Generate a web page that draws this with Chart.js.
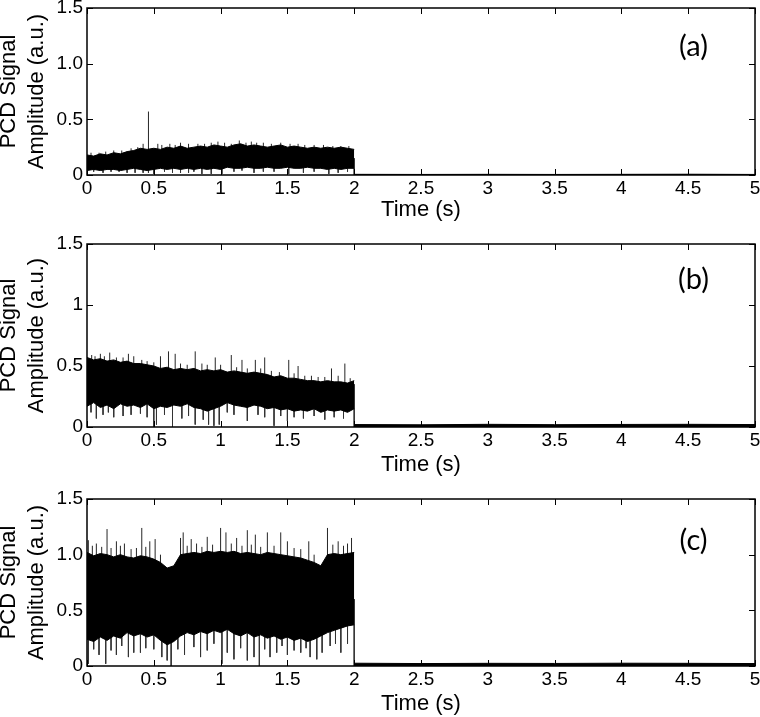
<!DOCTYPE html>
<html>
<head>
<meta charset="utf-8">
<title>PCD Signal Amplitude</title>
<script src="https://cdn.jsdelivr.net/npm/chart.js"></script>
<style>
    body { margin: 0; background: #fff; }
    #wrap { position: relative; width: 760px; height: 717px; overflow: hidden; }
    canvas { position: absolute; left: 0; }
</style>
</head>
<body>
<div id="wrap">
    <canvas id="chartA" width="760" height="230" style="top:0px"></canvas>
    <canvas id="chartB" width="760" height="250" style="top:230px"></canvas>
    <canvas id="chartC" width="760" height="237" style="top:480px"></canvas>
</div>
<script>
/*-------------------------------------------------------------------------------
 DATA
 -------------------------------------------------------------------------------*/

// time grid of the signal envelope while the source is on (s)
const timeGrid = [0, 0.05, 0.1, 0.15, 0.2, 0.25, 0.3, 0.35, 0.4, 0.45, 0.5, 0.55, 0.6, 0.65, 0.7,
    0.75, 0.8, 0.85, 0.9, 0.95, 1.0, 1.05, 1.1, 1.15, 1.2, 1.25, 1.3, 1.35, 1.4, 1.45, 1.5,
    1.55, 1.6, 1.65, 1.7, 1.75, 1.8, 1.85, 1.9, 1.95, 2.0];

// (a)
const upperA = [0.18, 0.17, 0.19, 0.18, 0.20, 0.19, 0.21, 0.22, 0.24, 0.23, 0.24, 0.23, 0.25, 0.24, 0.26,
    0.24, 0.25, 0.26, 0.25, 0.27, 0.26, 0.25, 0.27, 0.28, 0.26, 0.27, 0.26, 0.25, 0.26, 0.27, 0.25,
    0.26, 0.25, 0.24, 0.25, 0.24, 0.25, 0.24, 0.25, 0.24, 0.23];
const lowerA = [0.04, 0.05, 0.04, 0.05, 0.05, 0.04, 0.05, 0.06, 0.05, 0.04, 0.05, 0.06, 0.05, 0.06, 0.05,
    0.06, 0.05, 0.06, 0.05, 0.06, 0.05, 0.07, 0.06, 0.06, 0.07, 0.06, 0.06, 0.07, 0.06, 0.06, 0.07,
    0.06, 0.06, 0.07, 0.06, 0.06, 0.05, 0.06, 0.05, 0.06, 0.06];
const upSpikeTimeA = [0.46, 0.42, 0.53, 0.70, 0.98, 1.14, 1.27, 1.45,
    0.03, 0.09, 0.14, 0.20, 0.26, 0.33, 0.38, 0.56, 0.62, 0.66, 0.76, 0.83, 0.88, 0.93,
    1.03, 1.08, 1.19, 1.23, 1.32, 1.38, 1.52, 1.58, 1.63, 1.70, 1.77, 1.84, 1.90, 1.96];
const upSpikeValA = [0.57, 0.28, 0.28, 0.29, 0.30, 0.31, 0.29, 0.29,
    0.20, 0.20, 0.21, 0.22, 0.22, 0.24, 0.25, 0.27, 0.28, 0.27, 0.28, 0.28, 0.28, 0.29,
    0.29, 0.28, 0.29, 0.30, 0.29, 0.28, 0.28, 0.28, 0.27, 0.27, 0.27, 0.26, 0.26, 0.26];
const downSpikeTimeA = [0.30, 0.36, 0.46, 0.50, 0.70, 0.76, 0.86, 0.93, 1.01, 1.25, 1.51, 1.81, 1.88, 2.0,
    0.05, 0.12, 0.18, 0.24, 0.42, 0.58, 0.64, 0.80, 1.10, 1.16, 1.32, 1.40, 1.62, 1.70, 1.95];
const downSpikeValA = [0.02, 0.02, 0.02, 0.01, 0.02, 0.02, 0.01, 0.01, 0.01, 0.02, 0.01, 0.01, 0.02, 0.0,
    0.03, 0.02, 0.03, 0.03, 0.02, 0.03, 0.02, 0.03, 0.03, 0.04, 0.03, 0.03, 0.02, 0.03, 0.03];

// (b)
const upperB = [0.57, 0.55, 0.56, 0.54, 0.55, 0.53, 0.54, 0.52, 0.52, 0.51, 0.50, 0.48, 0.49, 0.47, 0.48,
    0.47, 0.48, 0.46, 0.47, 0.46, 0.47, 0.45, 0.46, 0.45, 0.44, 0.45, 0.44, 0.43, 0.41, 0.42, 0.40,
    0.40, 0.39, 0.38, 0.38, 0.37, 0.38, 0.37, 0.37, 0.36, 0.38];
const lowerB = [0.17, 0.20, 0.16, 0.18, 0.15, 0.19, 0.17, 0.18, 0.16, 0.19, 0.15, 0.17, 0.16, 0.18, 0.17,
    0.19, 0.16, 0.15, 0.13, 0.15, 0.17, 0.20, 0.18, 0.17, 0.16, 0.18, 0.17, 0.15, 0.16, 0.14, 0.15,
    0.13, 0.14, 0.13, 0.15, 0.12, 0.14, 0.13, 0.14, 0.12, 0.15];
const upSpikeTimeB = [0.035, 0.10, 0.17, 0.31, 0.35, 0.55, 0.61, 0.66, 0.81, 0.96, 1.08, 1.16, 1.26, 1.33, 1.51, 1.58, 1.83, 1.93,
    0.06, 0.13, 0.22, 0.27, 0.41, 0.45, 0.50, 0.70, 0.75, 0.86, 0.90, 1.00, 1.12, 1.20, 1.30, 1.38,
    1.44, 1.55, 1.63, 1.68, 1.73, 1.78, 1.88, 1.97];
const upSpikeValB = [0.59, 0.60, 0.61, 0.60, 0.58, 0.58, 0.62, 0.60, 0.62, 0.57, 0.59, 0.55, 0.55, 0.57, 0.55, 0.50, 0.48, 0.52,
    0.58, 0.58, 0.57, 0.57, 0.55, 0.54, 0.53, 0.52, 0.51, 0.52, 0.51, 0.51, 0.49, 0.48, 0.48, 0.46,
    0.45, 0.44, 0.42, 0.42, 0.41, 0.41, 0.42, 0.40];
const downSpikeTimeB = [0.07, 0.20, 0.50, 0.52, 0.64, 0.81, 0.91, 0.95, 0.99, 1.20, 1.40, 1.50, 2.0,
    0.03, 0.12, 0.16, 0.27, 0.33, 0.40, 0.45, 0.58, 0.71, 0.76, 0.87, 1.05, 1.10, 1.28, 1.33,
    1.45, 1.55, 1.62, 1.70, 1.78, 1.85, 1.92];
const downSpikeValB = [0.07, 0.08, 0.0, 0.02, 0.0, 0.02, 0.02, 0.01, 0.02, 0.05, 0.01, 0.05, 0.0,
    0.12, 0.10, 0.12, 0.09, 0.10, 0.11, 0.08, 0.10, 0.07, 0.09, 0.06, 0.12, 0.10, 0.10, 0.08,
    0.09, 0.08, 0.07, 0.09, 0.06, 0.08, 0.07];

// (c)
const upperC = [1.02, 0.99, 1.01, 1.00, 0.98, 1.00, 0.98, 0.97, 0.99, 0.98, 0.96, 0.93, 0.88, 0.90, 1.00,
    1.01, 1.02, 1.01, 1.03, 1.02, 1.03, 1.02, 1.03, 1.01, 1.02, 1.01, 1.00, 1.02, 1.01, 1.00, 0.99,
    0.98, 0.97, 0.95, 0.93, 0.90, 1.00, 1.01, 1.00, 1.01, 1.02];
const lowerC = [0.24, 0.22, 0.26, 0.23, 0.27, 0.25, 0.30, 0.27, 0.29, 0.26, 0.28, 0.23, 0.19, 0.22, 0.27,
    0.30, 0.28, 0.31, 0.29, 0.32, 0.30, 0.33, 0.29, 0.27, 0.30, 0.26, 0.28, 0.25, 0.27, 0.24, 0.26,
    0.23, 0.25, 0.22, 0.24, 0.27, 0.30, 0.32, 0.34, 0.36, 0.37];
const upSpikeTimeC = [0.01, 0.07, 0.15, 0.22, 0.28, 0.41, 0.47, 0.51, 0.70, 0.72, 0.78, 0.90, 1.00, 1.04, 1.12, 1.20, 1.26, 1.35, 1.45, 1.50, 1.66, 1.80, 1.88, 1.98,
    0.04, 0.11, 0.18, 0.25, 0.33, 0.37, 0.44, 0.55, 0.75, 0.82, 0.86, 0.94, 1.08, 1.16, 1.23, 1.30,
    1.40, 1.55, 1.60, 1.70, 1.84, 1.92, 1.95];
const upSpikeValC = [1.13, 1.10, 1.23, 1.12, 1.10, 1.24, 1.12, 1.14, 1.15, 1.20, 1.14, 1.16, 1.24, 1.20, 1.15, 1.22, 1.18, 1.20, 1.20, 1.12, 1.12, 1.24, 1.12, 1.15,
    1.08, 1.07, 1.06, 1.08, 1.05, 1.06, 1.07, 1.00, 1.08, 1.10, 1.07, 1.09, 1.10, 1.08, 1.09, 1.07,
    1.08, 1.06, 1.05, 1.00, 1.09, 1.08, 1.10];
const downSpikeTimeC = [0.01, 0.09, 0.14, 0.22, 0.31, 0.35, 0.50, 0.63, 0.73, 0.85, 1.01, 1.10, 1.20, 1.29, 1.37, 1.50, 1.60, 1.67, 1.90, 2.0,
    0.05, 0.18, 0.26, 0.40, 0.44, 0.56, 0.60, 0.68, 0.80, 0.90, 0.95, 1.05, 1.15, 1.25, 1.33, 1.42,
    1.46, 1.55, 1.64, 1.72, 1.76, 1.82, 1.86, 1.95];
const downSpikeValC = [0.02, 0.10, 0.02, 0.10, 0.08, 0.12, 0.15, 0.0, 0.10, 0.08, 0.02, 0.06, 0.05, 0.0, 0.08, 0.10, 0.12, 0.08, 0.12, 0.0,
    0.15, 0.14, 0.18, 0.12, 0.16, 0.08, 0.05, 0.15, 0.17, 0.14, 0.20, 0.12, 0.16, 0.08, 0.15, 0.12,
    0.18, 0.14, 0.16, 0.06, 0.12, 0.18, 0.20, 0.20];

// residual signal after the source is switched off
const tailTime = [2.0, 2.5, 3.0, 3.5, 4.0, 4.5, 5.0];
const tailLevelA = [0.006, 0.005, 0.006, 0.005, 0.006, 0.007, 0.005];
const tailLevelB = [0.020, 0.018, 0.022, 0.019, 0.021, 0.022, 0.020];
const tailLevelC = [0.025, 0.022, 0.024, 0.023, 0.025, 0.024, 0.022];
const tailZero = [0, 0, 0, 0, 0, 0, 0];

// ticks
const xTickValues = [0, 0.5, 1, 1.5, 2, 2.5, 3, 3.5, 4, 4.5, 5];
const xTickLabels = ['0', '0.5', '1', '1.5', '2', '2.5', '3', '3.5', '4', '4.5', '5'];
const yTickValues = [0, 0.5, 1, 1.5];
const yTickLabelsA = ['0', '0.5', '1.0', '1.5'];
const yTickLabelsB = ['0', '0.5', '1', '1.5'];
const yTickLabelsC = ['0', '0.5', '1.0', '1.5'];


/*-------------------------------------------------------------------------------
 helpers
 -------------------------------------------------------------------------------*/

function toPoints(times, values) {
    return times.map(function (t, i) { return {x: t, y: values[i]}; });
}

function spikePoints(times, values, base) {
    let pts = [];
    for (let i = 0; i < times.length; i++) {
        pts.push({x: times[i], y: base});
        pts.push({x: times[i], y: values[i]});
        pts.push({x: times[i], y: null});
    }
    return pts;
}

function labelFor(values, labels, v) {
    for (let i = 0; i < values.length; i++) {
        if (Math.abs(values[i] - v) < 1e-6) return labels[i];
    }
    return '';
}

// MATLAB style box with inward ticks + panel letter
const frameBox = {
    id: 'frameBox',
    afterDraw: function (chart, args, opts) {
        const ctx = chart.ctx;
        const a = chart.chartArea;
        const xs = chart.scales.x;
        const ys = chart.scales.y;
        ctx.save();
        ctx.strokeStyle = '#000';
        ctx.lineWidth = 1;
        ctx.beginPath();
        xTickValues.forEach(function (v) {
            const px = Math.round(xs.getPixelForValue(v)) + 0.5;
            ctx.moveTo(px, a.bottom); ctx.lineTo(px, a.bottom - 6);
            ctx.moveTo(px, a.top); ctx.lineTo(px, a.top + 6);
        });
        yTickValues.forEach(function (v) {
            const py = Math.round(ys.getPixelForValue(v)) + 0.5;
            ctx.moveTo(a.left, py); ctx.lineTo(a.left + 6, py);
            ctx.moveTo(a.right, py); ctx.lineTo(a.right - 6, py);
        });
        ctx.stroke();
        ctx.lineWidth = 1.5;
        ctx.strokeRect(a.left, a.top, a.right - a.left, a.bottom - a.top);

        ctx.fillStyle = '#000';
        ctx.font = '29px Lato';
        ctx.textAlign = 'center';
        ctx.textBaseline = 'middle';
        ctx.fillText(opts.label, xs.getPixelForValue(opts.labelX), ys.getPixelForValue(opts.labelY));
        ctx.restore();
    }
};

Chart.defaults.font.family = '"Liberation Sans", Arial, sans-serif';
Chart.defaults.color = '#000';

function makePanel(id, p) {
    let ctx = document.getElementById(id).getContext('2d');
    return new Chart(ctx, {
        type: 'line',
        data: {
            datasets: [{
                data: toPoints(timeGrid, p.upper),
                borderColor: '#000', borderWidth: 1,
                backgroundColor: '#000', fill: '+1'
            }, {
                data: toPoints(timeGrid, p.lower),
                borderColor: '#000', borderWidth: 1, fill: false
            }, {
                data: toPoints(tailTime, p.tail),
                borderColor: '#000', borderWidth: 1,
                backgroundColor: '#000', fill: '+1'
            }, {
                data: toPoints(tailTime, tailZero),
                borderColor: '#000', borderWidth: 1, fill: false
            }, {
                data: spikePoints(p.upT, p.upV, p.base),
                borderColor: '#262626', borderWidth: 1, fill: false, spanGaps: false
            }, {
                data: spikePoints(p.downT, p.downV, p.base),
                borderColor: '#333', borderWidth: 1, fill: false, spanGaps: false
            }]
        },
        options: {
            responsive: false,
            animation: false,
            devicePixelRatio: 1,
            layout: {padding: {top: p.padTop, right: 5, left: 0, bottom: 0}},
            elements: {point: {radius: 0}, line: {tension: 0}},
            plugins: {
                legend: {display: false},
                tooltip: {enabled: false},
                frameBox: {label: p.label, labelX: 4.54, labelY: p.labelY}
            },
            scales: {
                x: {
                    type: 'linear', min: 0, max: 5,
                    grid: {display: false, drawTicks: false},
                    border: {display: false},
                    ticks: {
                        stepSize: 0.5, autoSkip: false, maxRotation: 0, padding: 2,
                        font: {size: 19},
                        callback: function (v) { return labelFor(xTickValues, xTickLabels, v); }
                    },
                    title: {display: true, text: 'Time (s)', font: {size: 22}, padding: {top: 0, bottom: p.titlePad}},
                    afterFit: function (s) { s.height = p.axisH; s.paddingLeft = 0; s.paddingRight = 0; }
                },
                y: {
                    min: 0, max: 1.5,
                    grid: {display: false, drawTicks: false},
                    border: {display: false},
                    ticks: {
                        stepSize: 0.5, padding: 4,
                        font: {size: 19},
                        callback: function (v) { return labelFor(yTickValues, p.yLabels, v); }
                    },
                    title: {
                        display: true, text: ['PCD Signal', 'Amplitude (a.u.)'],
                        font: {size: 22, lineHeight: 1.27}, padding: {top: -5, bottom: 0}
                    },
                    afterFit: function (s) { s.width = 87; s.paddingTop = 0; s.paddingBottom = 0; }
                }
            }
        },
        plugins: [frameBox]
    });
}

makePanel('chartA', {
    upper: upperA, lower: lowerA, tail: tailLevelA,
    upT: upSpikeTimeA, upV: upSpikeValA, downT: downSpikeTimeA, downV: downSpikeValA, base: 0.15,
    yLabels: yTickLabelsA, label: '(a)', labelY: 1.15,
    padTop: 8, axisH: 55, titlePad: 7
});

makePanel('chartB', {
    upper: upperB, lower: lowerB, tail: tailLevelB,
    upT: upSpikeTimeB, upV: upSpikeValB, downT: downSpikeTimeB, downV: downSpikeValB, base: 0.35,
    yLabels: yTickLabelsB, label: '(b)', labelY: 1.21,
    padTop: 14, axisH: 53, titlePad: 2
});

makePanel('chartC', {
    upper: upperC, lower: lowerC, tail: tailLevelC,
    upT: upSpikeTimeC, upV: upSpikeValC, downT: downSpikeTimeC, downV: downSpikeValC, base: 0.6,
    yLabels: yTickLabelsC, label: '(c)', labelY: 1.13,
    padTop: 19, axisH: 51, titlePad: 0
});
</script>
</body>
</html>
